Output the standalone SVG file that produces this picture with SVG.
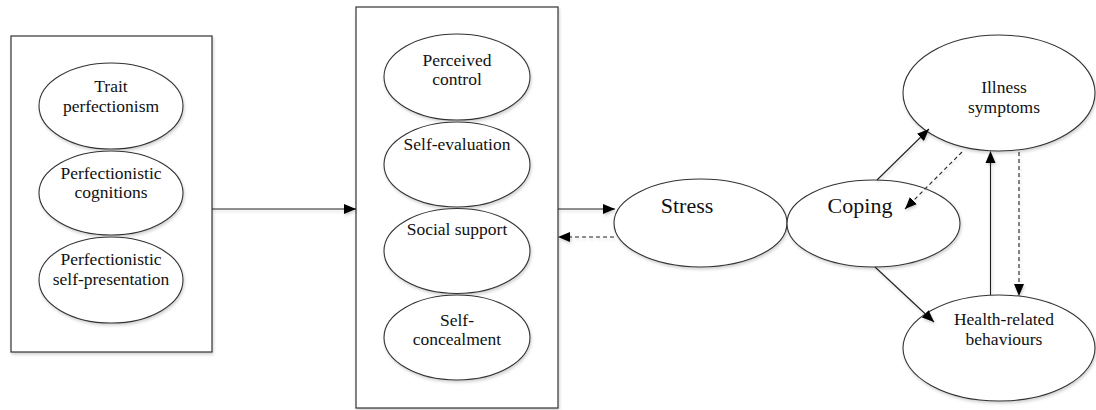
<svg xmlns="http://www.w3.org/2000/svg" width="1096" height="410" viewBox="0 0 1096 410">
<defs>
<filter id="sh" x="-10%" y="-10%" width="125%" height="130%">
<feDropShadow dx="1" dy="2" stdDeviation="1.5" flood-color="#000" flood-opacity="0.18"/>
</filter>
<marker id="ah" viewBox="0 0 12 10" refX="12" refY="5" markerWidth="12" markerHeight="10" markerUnits="userSpaceOnUse" orient="auto">
<path d="M0,0 L12,5 L0,10 z" fill="#000"/>
</marker>
<style>
.box{fill:#fff;stroke:#333;stroke-width:1.2}
.ell{fill:#fff;stroke:#333;stroke-width:1.1;filter:url(#sh)}
.t{font-family:"Liberation Serif","Times New Roman",serif;font-size:17.5px;fill:#111;text-anchor:middle}
.tb{font-family:"Liberation Serif","Times New Roman",serif;font-size:22px;fill:#111;text-anchor:middle}
.c{fill:none;stroke:#222;stroke-width:1.1;marker-end:url(#ah)}
.d{stroke-dasharray:4 3}
.hd{fill:#000}
</style>
</defs>
<rect width="1096" height="410" fill="#fff"/>

<g id="box-perfectionism">
<rect class="box" x="11" y="36" width="201" height="316" filter="url(#sh)"/>
</g>
<g id="trait-perfectionism">
<ellipse class="ell" cx="111" cy="106" rx="72" ry="43"/>
<text class="t" x="111" y="92">Trait</text>
<text class="t" x="111" y="112">perfectionism</text>
</g>
<g id="perfectionistic-cognitions">
<ellipse class="ell" cx="111" cy="193" rx="72" ry="42"/>
<text class="t" x="111" y="179">Perfectionistic</text>
<text class="t" x="111" y="198">cognitions</text>
</g>
<g id="perfectionistic-self-presentation">
<ellipse class="ell" cx="111" cy="280" rx="72" ry="43"/>
<text class="t" x="111" y="265">Perfectionistic</text>
<text class="t" x="111" y="285">self-presentation</text>
</g>

<g id="box-mediators">
<rect class="box" x="356" y="7" width="202" height="401" filter="url(#sh)"/>
</g>
<g id="perceived-control">
<ellipse class="ell" cx="457" cy="77" rx="73" ry="43"/>
<text class="t" x="457" y="66">Perceived</text>
<text class="t" x="457" y="85">control</text>
</g>
<g id="self-evaluation">
<ellipse class="ell" cx="457" cy="164.5" rx="73" ry="42.5"/>
<text class="t" x="457" y="150">Self-evaluation</text>
</g>
<g id="social-support">
<ellipse class="ell" cx="457" cy="251" rx="73" ry="42.5"/>
<text class="t" x="457" y="235">Social support</text>
</g>
<g id="self-concealment">
<ellipse class="ell" cx="457" cy="337.5" rx="73" ry="42.5"/>
<text class="t" x="457" y="326">Self-</text>
<text class="t" x="457" y="345">concealment</text>
</g>

<g id="stress">
<ellipse class="ell" cx="700.5" cy="223" rx="86.5" ry="44"/>
<text class="tb" x="687" y="213">Stress</text>
</g>
<g id="coping">
<ellipse class="ell" cx="873.5" cy="223.5" rx="86.5" ry="43.5"/>
<text class="tb" x="860" y="213">Coping</text>
</g>
<g id="illness-symptoms">
<ellipse class="ell" cx="999" cy="93" rx="96" ry="58"/>
<text class="t" x="1004" y="93">Illness</text>
<text class="t" x="1004" y="113">symptoms</text>
</g>
<g id="health-related-behaviours">
<ellipse class="ell" cx="999" cy="348" rx="96" ry="53"/>
<text class="t" x="1004" y="325">Health-related</text>
<text class="t" x="1004" y="345">behaviours</text>
</g>

<g id="connectors" filter="url(#sh)">
<line class="c" x1="212" y1="209" x2="356" y2="209"/>
<line class="c" x1="558" y1="209" x2="615" y2="209"/>
<line class="c d" x1="614" y1="237" x2="558" y2="237"/>
<line class="c" x1="877" y1="180" x2="929" y2="129"/>
<line class="c d" x1="962" y1="152" x2="905" y2="209"/>
<line class="c" x1="875" y1="267" x2="934" y2="322"/>
<line class="c" x1="990.5" y1="295" x2="990.5" y2="162" style="marker-end:none"/>
<path class="hd" d="M990.5,151 L995.5,163 L985.5,163 Z"/>
<line class="c d" x1="1019" y1="152" x2="1019" y2="285" style="marker-end:none"/>
<path class="hd" d="M1019,296 L1014,284 L1024,284 Z"/>
</g>
</svg>
